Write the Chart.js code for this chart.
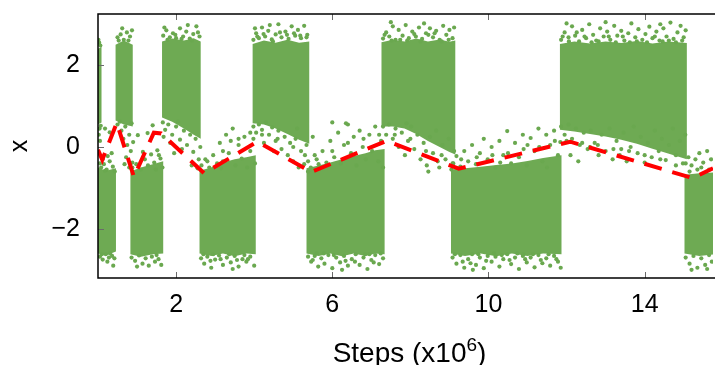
<!DOCTYPE html>
<html>
<head>
<meta charset="utf-8">
<script src="https://cdn.jsdelivr.net/npm/chart.js@4.4.1/dist/chart.umd.min.js"></script>
<style>
  html, body { margin: 0; padding: 0; background: #fff; }
  canvas { display: block; }
</style>
</head>
<body>
<canvas id="chart" width="717" height="365" style="width:717px;height:365px"></canvas>
<script>
const GREEN = '#6aa84f';
const BLOCK = '#6eaa53';
const FONT = '"Liberation Sans", Arial, sans-serif';

const xTicks = [2, 6, 10, 14];
const yTicks = [-2, 0, 2];

// red dashed mean line
const meanX = [0, 0.11, 0.48, 0.92, 1.43, 1.62, 2.72, 4.08, 5.46, 7.39, 9.24, 12.09, 15.23, 15.75];
const meanY = [-0.07, -0.31, 0.59, -0.73, 0.35, 0.33, -0.64, 0.13, -0.61, 0.15, -0.53, 0.13, -0.76, -0.52];

// dense part of each cluster: upper boundary and lower boundary (same index = same cluster)
const edgeTop = [
  [[0,2.4],[0.09,2.45]],
  [[0,-0.5],[0.2,-0.58],[0.46,-0.52]],
  [[0.45,2.5],[0.66,2.6],[0.89,2.5]],
  [[0.83,-0.6],[1.1,-0.5],[1.4,-0.42],[1.67,-0.35]],
  [[1.64,2.58],[1.9,2.65],[2.2,2.6],[2.45,2.66],[2.63,2.58]],
  [[2.6,-0.58],[2.9,-0.5],[3.2,-0.38],[3.5,-0.3],[3.8,-0.25],[4.04,-0.2]],
  [[3.96,2.52],[4.25,2.6],[4.55,2.55],[4.85,2.62],[5.15,2.55],[5.41,2.58]],
  [[5.34,-0.52],[5.65,-0.45],[5.95,-0.38],[6.25,-0.3],[6.55,-0.22],[6.85,-0.15],[7.1,-0.08],[7.34,-0.05]],
  [[7.26,2.56],[7.55,2.62],[7.85,2.58],[8.15,2.65],[8.45,2.58],[8.75,2.63],[9.0,2.57],[9.15,2.6]],
  [[9.04,-0.55],[9.4,-0.52],[9.8,-0.48],[10.2,-0.44],[10.6,-0.4],[11.0,-0.34],[11.4,-0.27],[11.87,-0.2]],
  [[11.83,2.52],[12.2,2.58],[12.6,2.53],[13.0,2.58],[13.4,2.54],[13.8,2.59],[14.2,2.53],[14.6,2.58],[15.08,2.54]],
  [[15.02,-0.68],[15.4,-0.64],[15.8,-0.62]]
];
const edgeBottom = [
  [[0,0.55],[0.09,0.6]],
  [[0,-2.6],[0.2,-2.65],[0.46,-2.55]],
  [[0.45,0.65],[0.66,0.55],[0.89,0.5]],
  [[0.83,-2.62],[1.1,-2.68],[1.4,-2.62],[1.67,-2.6]],
  [[1.64,0.72],[1.9,0.62],[2.2,0.45],[2.45,0.3],[2.63,0.2]],
  [[2.6,-2.6],[2.9,-2.66],[3.2,-2.6],[3.5,-2.67],[3.8,-2.6],[4.04,-2.62]],
  [[3.96,0.58],[4.25,0.55],[4.55,0.45],[4.85,0.32],[5.15,0.18],[5.41,0.08]],
  [[5.34,-2.6],[5.65,-2.66],[5.95,-2.6],[6.25,-2.67],[6.55,-2.6],[6.85,-2.66],[7.1,-2.6],[7.34,-2.62]],
  [[7.26,0.5],[7.55,0.5],[7.85,0.45],[8.15,0.32],[8.45,0.15],[8.75,0.0],[9.0,-0.12],[9.15,-0.18]],
  [[9.04,-2.6],[9.4,-2.66],[9.8,-2.6],[10.2,-2.67],[10.6,-2.6],[11.0,-2.66],[11.4,-2.6],[11.87,-2.62]],
  [[11.83,0.42],[12.2,0.38],[12.6,0.32],[13.0,0.26],[13.4,0.18],[13.8,0.08],[14.2,-0.04],[14.6,-0.16],[15.08,-0.3]],
  [[15.02,-2.6],[15.4,-2.66],[15.8,-2.62]]
];

// loose samples around the upper clusters
const topDots = [
  [0.03,2.55],[0.06,2.48],[0.01,2.62],[0.04,0.45],[0.02,0.3],[0.07,0.52],[0.18,0.45],[0.3,0.36],[0.05,0.15],
  [0.5,2.68],[0.58,2.75],[0.66,2.62],[0.74,2.8],[0.82,2.7],[0.87,2.85],[0.62,2.9],[0.78,2.6],[0.53,2.6],
  [0.5,0.55],[0.6,0.4],[0.7,0.5],[0.8,0.3],[0.86,0.58],[0.65,0.2],[0.75,0.05],[0.84,-0.1],[0.72,-0.25],
  [0.88,-0.38],[0.8,-0.5],[0.68,-0.42],[0.56,0.62],[0.9,0.12],
  [1.67,2.72],[1.75,2.85],[1.84,2.68],[1.92,2.78],[2.0,2.66],[2.1,2.9],[2.18,2.7],[2.26,2.82],[2.35,2.65],
  [2.44,2.76],[2.52,2.95],[2.6,2.7],[1.7,2.92],[2.3,2.98],
  [1.78,2.62],[1.98,2.74],[2.14,2.64],[2.4,2.6],[2.56,2.8],
  [1.66,0.6],[1.72,0.42],[1.8,0.55],[1.9,0.3],[2.0,0.5],[2.1,0.18],[2.2,0.4],[2.28,0.05],[2.36,0.3],
  [2.44,-0.12],[2.5,0.2],[2.58,-0.3],[2.62,0.0],[2.4,-0.45],[2.55,-0.52],[1.85,0.1],[1.95,-0.15],
  [2.15,-0.05],[1.68,0.25],[2.05,0.62],
  [3.98,2.62],[4.05,2.78],[4.12,2.66],[4.2,2.92],[4.28,2.7],[4.36,2.84],[4.45,2.63],[4.55,2.75],[4.62,3.0],
  [4.7,2.68],[4.8,2.82],[4.88,2.64],[4.96,2.95],[5.05,2.72],[5.12,2.86],[5.2,2.66],[5.28,2.96],[5.36,2.74],
  [4.4,2.98],[4.02,2.9],
  [4.08,2.7],[4.24,2.76],[4.48,2.58],[4.66,2.8],[4.84,2.74],[5.02,2.78],[5.18,2.72],[5.34,2.68],
  [3.98,0.5],[4.05,0.35],[4.12,0.55],[4.2,0.42],[4.3,0.6],[4.38,0.3],[4.46,0.48],[4.55,0.15],[4.62,0.4],
  [4.7,-0.05],[4.78,0.25],[4.86,-0.2],[4.92,0.1],[5.0,-0.35],[5.06,0.2],[5.14,-0.5],[5.2,-0.1],[5.28,-0.42],
  [5.34,0.05],[5.38,-0.6],[4.5,-0.1],[5.1,0.45],[4.25,0.1],
  [4.2,0.3],[4.6,0.2],[5.0,0.0],[5.3,-0.2],
  [7.3,2.65],[7.38,2.8],[7.46,2.7],[7.55,2.95],[7.62,2.62],[7.7,2.86],[7.8,2.72],[7.88,2.98],[7.96,2.66],
  [8.05,2.82],[8.14,2.7],[8.22,2.92],[8.3,2.64],[8.4,2.78],[8.5,2.9],[8.58,2.68],[8.66,2.84],[8.75,2.62],
  [8.84,2.96],[8.92,2.74],[9.0,2.86],[9.08,2.66],[9.12,2.92],[7.5,3.05],[8.35,3.02],
  [7.34,2.74],[7.52,2.6],[7.74,2.62],[7.92,2.6],[8.1,2.76],[8.26,2.58],[8.46,2.74],[8.62,2.78],[8.8,2.58],
  [8.98,2.62],
  [7.3,0.5],[7.38,0.3],[7.45,0.55],[7.55,0.2],[7.62,0.45],[7.7,0.0],[7.78,0.35],[7.86,-0.2],[7.94,0.15],
  [8.02,0.5],[8.1,-0.05],[8.18,0.3],[8.26,-0.3],[8.34,0.1],[8.42,-0.45],[8.5,0.25],[8.58,-0.15],[8.66,0.4],
  [8.74,-0.5],[8.82,0.05],[8.9,-0.3],[8.98,0.2],[9.05,-0.55],[9.12,-0.1],[8.46,-0.6],[8.7,-0.35],[7.9,0.58],
  [7.6,0.3],[8.0,0.2],[8.4,-0.1],[8.8,-0.2],[9.1,-0.4],
  [11.86,2.62],[11.95,2.8],[12.05,2.68],[12.14,2.95],[12.22,2.72],[12.32,2.58],[12.4,2.86],[12.5,2.66],
  [12.58,3.0],[12.68,2.74],[12.76,2.6],[12.86,2.9],[12.95,2.7],[13.04,2.82],[13.12,2.62],[13.22,2.96],
  [13.3,2.72],[13.4,2.84],[13.48,2.6],[13.58,2.78],[13.66,3.02],[13.76,2.68],[13.84,2.88],[13.94,2.62],
  [14.02,2.76],[14.12,2.94],[14.2,2.66],[14.3,2.82],[14.38,2.6],[14.48,2.9],[14.56,2.7],[14.66,3.04],
  [14.74,2.64],[14.84,2.8],[14.92,2.96],[15.0,2.68],[15.05,2.85],[12.0,3.02],[13.0,3.05],[14.4,3.0],
  [11.9,2.7],[12.06,2.58],[12.26,2.8],[12.46,2.7],[12.64,2.56],[12.82,2.58],[13.08,2.7],[13.26,2.56],
  [13.44,2.7],[13.62,2.56],[13.8,2.58],[14.06,2.56],[14.26,2.7],[14.46,2.58],[14.62,2.6],[14.8,2.56],
  [14.96,2.6],
  [11.86,0.5],[11.95,0.3],[12.05,0.55],[12.14,0.2],[12.24,0.45],[12.34,0.05],[12.44,0.35],[12.54,-0.05],
  [12.62,0.4],[12.72,0.1],[12.82,-0.2],[12.9,0.3],[13.0,-0.1],[13.1,0.45],[13.18,-0.3],[13.28,0.15],
  [13.36,-0.2],[13.46,0.35],[13.54,-0.35],[13.64,0.0],[13.72,0.5],[13.82,-0.15],[13.9,0.25],[14.0,-0.38],
  [14.08,0.1],[14.18,-0.25],[14.26,0.4],[14.36,-0.1],[14.44,0.2],[14.54,-0.32],[14.62,0.05],[14.72,0.45],
  [14.8,-0.2],[14.9,0.15],[14.98,-0.4],[15.04,0.3],[12.3,-0.35],[12.1,-0.2],
  [12.0,0.15],[12.4,0.1],[12.8,0.05],[13.2,-0.05],[13.6,-0.1],[14.0,-0.2],[14.4,-0.3],[14.8,-0.45],
  [12.6,0.0],[13.4,-0.05]
];

// loose samples around the lower clusters
const bottomDots = [
  [0.05,-2.68],[0.12,-2.75],[0.2,-2.62],[0.28,-2.7],[0.36,-2.66],[0.42,-2.72],[0.39,-2.9],[0.1,-2.62],
  [0.24,-2.8],[0.31,-2.6],
  [0.08,-0.5],[0.15,-0.42],[0.22,-0.55],[0.3,-0.35],[0.38,-0.48],[0.12,-0.3],[0.25,-0.22],[0.43,-0.6],
  [0.35,-0.15],[0.18,-0.58],[0.05,-0.4],
  [0.86,-2.7],[0.95,-2.78],[1.05,-2.65],[1.14,-2.85],[1.22,-2.72],[1.3,-2.9],[1.38,-2.68],[1.46,-2.8],
  [1.55,-2.74],[1.62,-2.88],[1.0,-2.92],[1.5,-2.64],
  [0.88,-0.5],[0.98,-0.42],[1.1,-0.55],[1.2,-0.3],[1.28,-0.45],[1.36,-0.18],[1.44,-0.38],[1.52,-0.08],
  [1.6,-0.28],[1.65,-0.5],[1.02,0.29],[1.27,0.34],[1.4,0.53],[1.15,-0.12],[1.48,-0.55],[1.56,-0.2],
  [2.64,-2.72],[2.72,-2.85],[2.8,-2.68],[2.9,-2.95],[3.0,-2.75],[3.1,-2.65],[3.2,-2.88],[3.3,-2.7],
  [3.4,-2.82],[3.5,-2.66],[3.6,-2.92],[3.7,-2.74],[3.8,-2.8],[3.9,-2.68],[4.0,-2.9],[2.95,-2.62],
  [3.45,-2.98],[3.75,-2.64],
  [2.7,-2.62],[2.88,-2.78],[3.14,-2.74],[3.36,-2.62],[3.56,-2.76],[3.84,-2.74],
  [2.65,-0.45],[2.75,-0.3],[2.85,-0.5],[2.95,-0.2],[3.05,-0.4],[3.12,0.1],[3.2,-0.35],[3.28,0.3],
  [3.35,-0.15],[3.45,0.45],[3.52,-0.45],[3.6,0.05],[3.68,-0.28],[3.75,0.25],[3.82,-0.5],[3.9,-0.1],
  [3.98,0.2],[4.02,-0.4],[3.4,0.15],[3.15,-0.52],
  [2.8,-0.35],[3.2,-0.1],[3.6,0.2],[3.9,0.35],
  [5.38,-2.68],[5.46,-2.8],[5.55,-2.66],[5.64,-2.92],[5.72,-2.72],[5.8,-2.85],[5.9,-2.64],[6.0,-2.96],
  [6.1,-2.7],[6.2,-2.82],[6.3,-2.66],[6.4,-2.9],[6.5,-2.74],[6.6,-2.62],[6.7,-2.88],[6.8,-2.7],
  [6.9,-2.98],[7.0,-2.76],[7.1,-2.64],[7.2,-2.86],[7.3,-2.72],[5.6,-2.6],[6.25,-3.0],[6.95,-2.62],
  [5.5,-2.76],[5.78,-2.6],[6.04,-2.64],[6.34,-2.78],[6.58,-2.8],[6.84,-2.62],[7.06,-2.82],[7.24,-2.6],
  [5.38,-0.35],[5.45,-0.5],[5.55,-0.2],[5.65,-0.42],[5.75,-0.1],[5.85,-0.38],[5.95,0.15],[6.05,-0.25],
  [6.15,0.35],[6.22,-0.4],[6.3,0.05],[6.4,0.55],[6.48,-0.15],[6.55,0.25],[6.62,-0.45],[6.7,0.4],
  [6.78,0.0],[6.86,-0.3],[6.95,0.3],[7.02,-0.1],[7.1,0.5],[7.18,-0.35],[7.25,0.15],[7.3,-0.5],
  [6.0,0.6],[6.35,0.58],[5.5,0.25],
  [5.6,-0.3],[6.0,-0.1],[6.4,0.1],[6.8,0.2],[7.2,0.3],
  [9.08,-2.7],[9.18,-2.85],[9.28,-2.64],[9.38,-2.95],[9.48,-2.74],[9.58,-2.62],[9.68,-2.88],[9.78,-2.7],
  [9.88,-2.96],[9.98,-2.66],[10.08,-2.8],[10.18,-2.68],[10.28,-2.92],[10.38,-2.74],[10.48,-2.62],
  [10.58,-2.86],[10.68,-2.7],[10.78,-2.98],[10.88,-2.66],[10.98,-2.82],[11.08,-2.7],[11.18,-2.94],
  [11.28,-2.64],[11.38,-2.84],[11.48,-2.72],[11.58,-2.9],[11.68,-2.66],[11.78,-2.8],[11.85,-2.95],
  [9.6,-3.0],[10.9,-2.62],
  [9.14,-2.62],[9.34,-2.8],[9.54,-2.84],[9.74,-2.62],[9.94,-2.78],[10.14,-2.6],[10.34,-2.64],[10.54,-2.76],
  [10.74,-2.6],[10.94,-2.74],[11.14,-2.62],[11.34,-2.76],[11.54,-2.62],[11.74,-2.74],
  [9.08,-0.4],[9.18,-0.22],[9.28,-0.48],[9.38,-0.1],[9.48,-0.35],[9.58,0.05],[9.68,-0.42],[9.78,-0.15],
  [9.88,0.2],[9.98,-0.3],[10.08,0.0],[10.18,-0.5],[10.28,0.15],[10.38,-0.2],[10.48,0.39],[10.58,-0.4],
  [10.68,0.1],[10.78,-0.25],[10.88,0.3],[10.98,-0.45],[11.08,0.22],[11.18,-0.1],[11.28,0.45],[11.38,-0.35],
  [11.48,0.3],[11.58,0.05],[11.68,0.4],[11.78,-0.2],[11.84,0.12],[11.5,-0.5],[11.0,0.05],[10.3,-0.38],
  [9.3,-0.3],[9.7,-0.25],[10.1,-0.2],[10.5,-0.15],[10.9,-0.05],[11.3,0.0],[11.7,0.15],
  [15.05,-2.7],[15.15,-2.85],[15.25,-2.66],[15.35,-2.95],[15.45,-2.72],[15.55,-2.88],[15.65,-2.64],
  [15.72,-2.8],[15.2,-3.0],[15.6,-2.98],
  [15.05,-0.4],[15.12,-0.25],[15.2,-0.45],[15.3,-0.3],[15.4,-0.15],[15.5,-0.38],[15.6,-0.1],[15.7,-0.3],
  [15.35,-0.55],[15.15,-0.6],[15.45,-0.5],[15.65,-0.55]
];

const toXY = arr => arr.map(p => ({ x: p[0], y: p[1] }));

const datasets = [
  {
    type: 'line',
    data: meanX.map((x, i) => ({ x: x, y: meanY[i] })),
    borderColor: '#ff0000',
    borderWidth: 4,
    borderDash: [18, 11],
    borderCapStyle: 'butt',
    pointRadius: 0,
    fill: false,
    tension: 0,
    order: 0
  },
  {
    type: 'scatter',
    data: toXY(topDots.concat(bottomDots)),
    backgroundColor: GREEN,
    borderWidth: 0,
    pointRadius: 2.1,
    order: 1
  }
];

// dense blocks: outline = upper boundary, then lower boundary backwards, mapped through the chart scales
const blockPlugin = {
  id: 'blocks',
  beforeDatasetsDraw(chart) {
    const { ctx, chartArea: a, scales } = chart;
    ctx.save();
    ctx.beginPath();
    ctx.rect(a.left, a.top, a.right - a.left, a.bottom - a.top);
    ctx.clip();
    ctx.fillStyle = BLOCK;
    edgeTop.forEach((top, i) => {
      const outline = top.concat(edgeBottom[i].slice().reverse());
      ctx.beginPath();
      outline.forEach((p, j) => {
        const px = scales.x.getPixelForValue(p[0]);
        const py = scales.y.getPixelForValue(p[1]);
        if (j === 0) ctx.moveTo(px, py); else ctx.lineTo(px, py);
      });
      ctx.closePath();
      ctx.fill();
    });
    ctx.restore();
  }
};

// frame with inward ticks and the axis titles
const framePlugin = {
  id: 'frame',
  afterDatasetsDraw(chart) {
    const { ctx, chartArea: a, scales } = chart;
    ctx.save();
    ctx.strokeStyle = '#6a6a6a';
    ctx.lineWidth = 1;
    xTicks.forEach(v => {
      const px = Math.round(scales.x.getPixelForValue(v)) + 0.5;
      ctx.beginPath();
      ctx.moveTo(px, a.bottom); ctx.lineTo(px, a.bottom - 6);
      ctx.moveTo(px, a.top); ctx.lineTo(px, a.top + 6);
      ctx.stroke();
    });
    yTicks.forEach(v => {
      const py = Math.round(scales.y.getPixelForValue(v)) + 0.5;
      ctx.beginPath();
      ctx.moveTo(a.left, py); ctx.lineTo(a.left + 6, py);
      ctx.stroke();
    });
    ctx.strokeStyle = '#000';
    ctx.lineWidth = 1.5;
    ctx.beginPath();
    ctx.moveTo(a.right + 2, a.top);
    ctx.lineTo(a.left, a.top);
    ctx.lineTo(a.left, a.bottom);
    ctx.lineTo(a.right + 2, a.bottom);
    ctx.stroke();
    ctx.restore();
  },
  afterDraw(chart) {
    const { ctx, chartArea: a } = chart;
    ctx.save();
    ctx.fillStyle = '#000';
    ctx.textBaseline = 'alphabetic';
    ctx.textAlign = 'left';
    const main = 'Steps (x10', sup = '6', close = ')';
    ctx.font = '28px ' + FONT;
    const w1 = ctx.measureText(main).width;
    const w3 = ctx.measureText(close).width;
    ctx.font = '19px ' + FONT;
    const w2 = ctx.measureText(sup).width;
    const total = w1 + w2 + w3;
    let x = (a.left + a.right) / 2 - total / 2 + 4;
    const base = 362;
    ctx.font = '28px ' + FONT;
    ctx.fillText(main, x, base);
    ctx.font = '19px ' + FONT;
    ctx.fillText(sup, x + w1, base - 11);
    ctx.font = '28px ' + FONT;
    ctx.fillText(close, x + w1 + w2, base);

    ctx.translate(20, (a.top + a.bottom) / 2);
    ctx.rotate(-Math.PI / 2);
    ctx.textAlign = 'center';
    ctx.textBaseline = 'middle';
    ctx.font = '25px ' + FONT;
    ctx.fillText('x', 0, 0);
    ctx.restore();
  }
};

new Chart(document.getElementById('chart').getContext('2d'), {
  type: 'scatter',
  data: { datasets: datasets },
  options: {
    responsive: false,
    animation: false,
    events: [],
    layout: { padding: { top: 14, right: 0, left: 0, bottom: 0 } },
    plugins: { legend: { display: false }, tooltip: { enabled: false } },
    scales: {
      x: {
        type: 'linear',
        min: 0,
        max: 15.75,
        grid: { display: false, drawTicks: false },
        border: { display: false },
        ticks: { color: '#000', font: { family: FONT, size: 25 }, padding: 12, maxRotation: 0, autoSkip: false },
        afterBuildTicks: s => { s.ticks = xTicks.map(v => ({ value: v })); },
        afterFit: s => { s.height = 87; s.paddingLeft = 0; s.paddingRight = 0; }
      },
      y: {
        type: 'linear',
        min: -3.2,
        max: 3.25,
        grid: { display: false, drawTicks: false },
        border: { display: false },
        ticks: {
          color: '#000', font: { family: FONT, size: 25 }, padding: 18,
          callback: v => (v < 0 ? '\u2212' + Math.abs(v) : String(v))
        },
        afterBuildTicks: s => { s.ticks = yTicks.map(v => ({ value: v })); },
        afterFit: s => { s.width = 98; s.paddingTop = 0; s.paddingBottom = 0; }
      }
    }
  },
  plugins: [blockPlugin, framePlugin]
});
</script>
</body>
</html>
